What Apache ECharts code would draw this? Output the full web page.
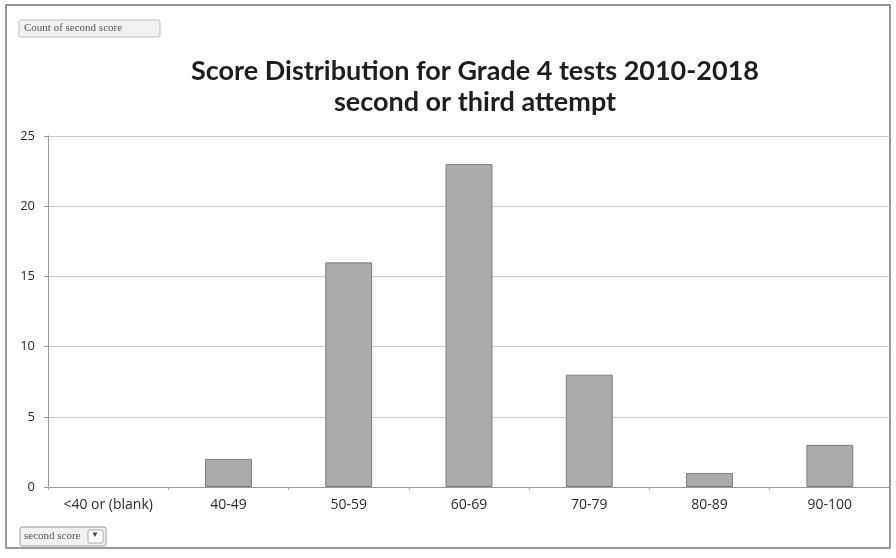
<!DOCTYPE html>
<html>
<head>
<meta charset="utf-8">
<script src="https://cdn.jsdelivr.net/npm/echarts@6/dist/echarts.min.js"></script>
<style>
  html, body { margin: 0; padding: 0; background: #fff; }
  #chart { width: 896px; height: 558px; }
</style>
</head>
<body>
<div id="chart"></div>
<script>
const categories = ['<40 or (blank)', '40-49', '50-59', '60-69', '70-79', '80-89', '90-100']
const counts = [0, 2, 16, 23, 8, 1, 3]
const yTicks = [0, 5, 10, 15, 20, 25]

const chart = echarts.init(document.getElementById('chart'))

// a zero count draws nothing in the original, so drop the outline there
const barData = counts.map(v => ({
  value: v,
  itemStyle: v === 0 ? { borderWidth: 0 } : undefined
}))

const option = {
  animation: false,
  backgroundColor: '#fff',
  title: {
    text: 'Score Distribution for Grade 4 tests 2010-2018\nsecond or third attempt',
    left: 470,
    top: 51,
    textAlign: 'center',
    textStyle: {
      fontFamily: 'Lato',
      fontWeight: 'bold',
      fontSize: 27,
      lineHeight: 31,
      color: '#1e1e1e'
    }
  },
  grid: {
    left: 48,
    right: 6,
    top: 136,
    bottom: 71
  },
  xAxis: {
    type: 'category',
    data: categories,
    axisLine: { lineStyle: { color: '#999' } },
    axisTick: { show: true, lineStyle: { color: '#aaa' }, length: 3 },
    axisLabel: { color: '#2a2a2a', fontFamily: 'Open Sans', fontSize: 14, margin: 11, interval: 0 }
  },
  yAxis: {
    type: 'value',
    min: yTicks[0],
    max: yTicks[yTicks.length - 1],
    interval: 5,
    axisLine: { show: true, lineStyle: { color: '#999' } },
    axisTick: { show: true, lineStyle: { color: '#999' }, length: 4 },
    axisLabel: { color: '#2a2a2a', fontFamily: 'Open Sans', fontSize: 13, margin: 13 },
    splitLine: { lineStyle: { color: '#c8c8c8', width: 1 } }
  },
  series: [
    {
      name: 'Count of second score',
      type: 'bar',
      data: barData,
      barWidth: '39%',
      itemStyle: {
        color: '#ababab',
        borderColor: '#7d7d7d',
        borderWidth: 1
      }
    }
  ],
  graphic: [
    {
      type: 'rect',
      shape: { x: 6, y: 5, width: 884, height: 543 },
      style: { fill: 'none', stroke: '#777', lineWidth: 1.5 },
      silent: true
    },
    {
      type: 'rect',
      shape: { x: 19, y: 20, width: 141, height: 17, r: 2 },
      style: { fill: '#f2f2f2', stroke: '#bbb', lineWidth: 1 }
    },
    {
      type: 'text',
      x: 24, y: 23,
      style: { text: 'Count of second score', fill: '#555', fontFamily: 'Liberation Serif', fontSize: 11 }
    },
    {
      type: 'rect',
      shape: { x: 20, y: 527, width: 86, height: 19, r: 2 },
      style: { fill: '#f2f2f2', stroke: '#999', lineWidth: 1 }
    },
    {
      type: 'text',
      x: 24, y: 531,
      style: { text: 'second score', fill: '#555', fontFamily: 'Liberation Serif', fontSize: 11 }
    },
    {
      type: 'rect',
      shape: { x: 88, y: 530, width: 15, height: 13, r: 1 },
      style: { fill: '#fff', stroke: '#aaa', lineWidth: 1 }
    },
    {
      type: 'text',
      x: 91, y: 531,
      style: { text: '▼', fill: '#444', fontSize: 8 }
    }
  ]
}

chart.setOption(option)
</script>
</body>
</html>
